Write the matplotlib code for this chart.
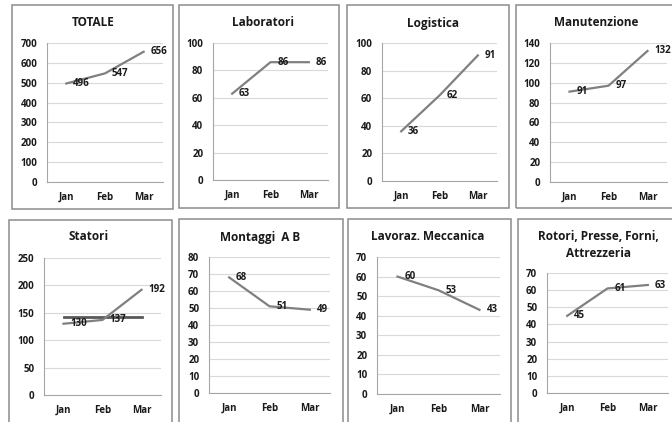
import matplotlib
matplotlib.use("Agg")
import matplotlib.pyplot as plt
from matplotlib.patches import Rectangle

plt.rcParams["font.family"] = ["Open Sans", "DejaVu Sans"]

LINE = "#808080"
REF_LINE = "#595959"
GRID = "#d9d9d9"
AXIS = "#a6a6a6"
BORDER = "#8c8c8c"
INK = "#1a1a1a"

W, H = 672, 422

months = ["Jan", "Feb", "Mar"]

totale = [496, 547, 656]
laboratori = [63, 86, 86]
logistica = [36, 62, 91]
manutenzione = [91, 97, 132]
statori = [130, 137, 192]
statori_ref = [143, 143, 143]
montaggi = [68, 51, 49]
lavoraz = [60, 53, 43]
rotori = [45, 61, 63]

titles = ["TOTALE", "Laboratori", "Logistica", "Manutenzione",
          "Statori", "Montaggi  A B", "Lavoraz. Meccanica",
          "Rotori, Presse, Forni,\nAttrezzeria"]
series = [totale, laboratori, logistica, manutenzione,
          statori, montaggi, lavoraz, rotori]
y_max = [700, 100, 100, 140, 250, 80, 70, 70]
y_step = [100, 20, 20, 20, 50, 10, 10, 10]

# panel boxes (x0, y0, x1, y1) in pixels from top-left
boxes = [(12, 5, 173, 209), (179, 5, 339, 208), (347, 5, 509, 208),
         (516, 5, 680, 208),
         (9, 220, 172, 430), (179, 219, 343, 430), (348, 219, 511, 430),
         (518, 219, 680, 430)]
# plot areas (x0, x1, ytop, ybottom) in pixels
areas = [(47, 163, 43, 182), (213, 328, 43, 180), (382, 497, 43, 181),
         (550, 667, 43, 182),
         (44, 161, 258, 395), (209, 330, 257, 393), (377, 500, 257, 394),
         (547, 668, 273, 393)]
title_pos = [(93, 23), (263, 23), (433, 23), (596, 23),
             (89, 237), (260, 237), (428, 237), (598, 245)]

fig = plt.figure(figsize=(W / 100, H / 100), dpi=100)
fig.patch.set_facecolor("white")

for (bx0, by0, bx1, by1) in boxes:
    fig.patches.append(Rectangle((bx0 / W, 1 - by1 / H), (bx1 - bx0) / W,
                                 (by1 - by0) / H, transform=fig.transFigure,
                                 fill=False, edgecolor=BORDER, linewidth=1.1))

for i, (title, vals) in enumerate(zip(titles, series)):
    x0, x1, yt, yb = areas[i]
    ax = fig.add_axes([x0 / W, 1 - yb / H, (x1 - x0) / W, (yb - yt) / H])
    xs = range(len(months))
    if i == 4:
        ax.plot(xs, statori_ref, color=REF_LINE, linewidth=2.0, zorder=3)
    ax.plot(xs, vals, color=LINE, linewidth=1.6, zorder=4)
    for x, v in zip(xs, vals):
        ax.annotate(f"{v}", (x, v), xytext=(5, 0), textcoords="offset points",
                    ha="left", va="center", fontsize=7, fontweight="bold",
                    color=INK, zorder=5, annotation_clip=False)
    ax.set_xlim(-0.5, 2.5)
    ax.set_ylim(0, y_max[i])
    ax.set_yticks(range(0, y_max[i] + 1, y_step[i]))
    ax.set_xticks(list(xs))
    ax.set_xticklabels(months)
    ax.grid(axis="y", color=GRID, linewidth=0.8)
    ax.set_axisbelow(True)
    for s in ("top", "right"):
        ax.spines[s].set_visible(False)
    for s in ("left", "bottom"):
        ax.spines[s].set_color(AXIS)
        ax.spines[s].set_linewidth(0.8)
    ax.tick_params(length=0, labelsize=7, colors=INK)
    ax.tick_params(axis="y", pad=7)
    ax.tick_params(axis="x", pad=7)
    for lab in ax.get_xticklabels() + ax.get_yticklabels():
        lab.set_fontweight("bold")
    tx, ty = title_pos[i]
    fig.text(tx / W, 1 - ty / H, title, ha="center", va="center",
             fontsize=8.5, fontweight="bold", color=INK, linespacing=1.4)

fig.savefig("out.png", dpi=100, facecolor="white")
